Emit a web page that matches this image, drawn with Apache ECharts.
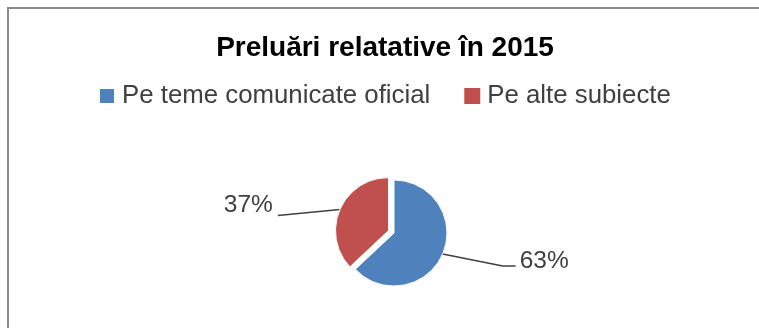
<!DOCTYPE html>
<html>
<head>
<meta charset="utf-8">
<script src="https://cdn.jsdelivr.net/npm/echarts@6/dist/echarts.min.js"></script>
<style>
html,body{margin:0;padding:0;background:#fff;}
#c{width:759px;height:328px;}
</style>
</head>
<body>
<div id="c"></div>
<script>
var titleText = 'Preluări relatative în 2015';
var categories = ['Pe teme comunicate oficial', 'Pe alte subiecte'];
var values = [63, 37];
var colors = ['#4F81BD', '#C0504D'];
var explodedIndex = 1;

var FONT = "'Liberation Sans', Arial, sans-serif";
var chart = echarts.init(document.getElementById('c'), null, {renderer: 'canvas'});

var CENTER = [394, 233], RADIUS = 53, EXPLODE = 6;

// label line offsets (style) relative to the slice edge point
var lineOffsets = [
  {mid: [60, 12], end: [13, 0], lab: [4, -5]},
  {mid: [-62, 6], end: [0, 0], lab: [-5, -10]}
];

// explode direction from the slice's mid angle (start at top, clockwise)
var total = values.reduce(function (a, b) { return a + b; }, 0);
var before = 0;
for (var k = 0; k < explodedIndex; k++) before += values[k];
var midFrac = (before + values[explodedIndex] / 2) / total;
var midAng = midFrac * 2 * Math.PI; // clockwise from top
var exCenter = [CENTER[0] + EXPLODE * Math.sin(midAng), CENTER[1] - EXPLODE * Math.cos(midAng)];

function layoutFn(p) {
  var o = lineOffsets[p.dataIndex];
  if (!p.labelLinePoints) return {};
  var e = p.labelLinePoints[0];
  var m = [e[0] + o.mid[0], e[1] + o.mid[1]];
  var t = [m[0] + o.end[0], m[1] + o.end[1]];
  return {x: t[0] + o.lab[0], y: t[1] + o.lab[1], labelLinePoints: [e, m, t]};
}

function makeSeries(showIdx, center) {
  return {
    type: 'pie',
    center: center,
    radius: RADIUS,
    startAngle: 90,
    clockwise: true,
    selectedMode: false,
    silent: true,
    data: categories.map(function (n, i) {
      var vis = i === showIdx;
      return {
        name: n, value: values[i],
        itemStyle: vis ? {color: colors[i], borderColor: '#fff', borderWidth: 1}
                       : {color: 'rgba(0,0,0,0)', borderWidth: 0},
        label: {show: vis},
        labelLine: {show: vis}
      };
    }),
    emphasis: {disabled: true},
    label: {
      position: 'outside',
      formatter: function (p) { return Math.round(p.percent) + '%'; },
      fontFamily: FONT, fontSize: 24.5, color: '#404040'
    },
    labelLine: {length: 20, length2: 10, lineStyle: {color: '#404040', width: 1.6}},
    labelLayout: layoutFn
  };
}

chart.setOption({
  animation: false,
  title: {
    text: titleText,
    left: 380,
    top: 29,
    textAlign: 'center',
    textStyle: {fontFamily: FONT, fontWeight: 'bold', fontSize: 28, color: '#000'}
  },
  legend: {
    data: categories.map(function (n, i) { return {name: n, itemStyle: {color: colors[i]}}; }),
    left: 98,
    top: 83,
    padding: 0,
    icon: 'rect',
    itemWidth: 16,
    itemHeight: 16,
    itemGap: 34,
    selectedMode: false,
    textStyle: {fontFamily: FONT, fontSize: 25.8, color: '#404040', padding: [0, 0, 0, 2]}
  },
  graphic: [
    {type: 'line', shape: {x1: 7, y1: 8, x2: 759, y2: 8}, style: {stroke: '#8c8c8c', lineWidth: 2}},
    {type: 'line', shape: {x1: 8, y1: 7, x2: 8, y2: 328}, style: {stroke: '#8c8c8c', lineWidth: 2}}
  ],
  series: [
    makeSeries(0, CENTER),
    makeSeries(1, exCenter)
  ]
});
</script>
</body>
</html>
